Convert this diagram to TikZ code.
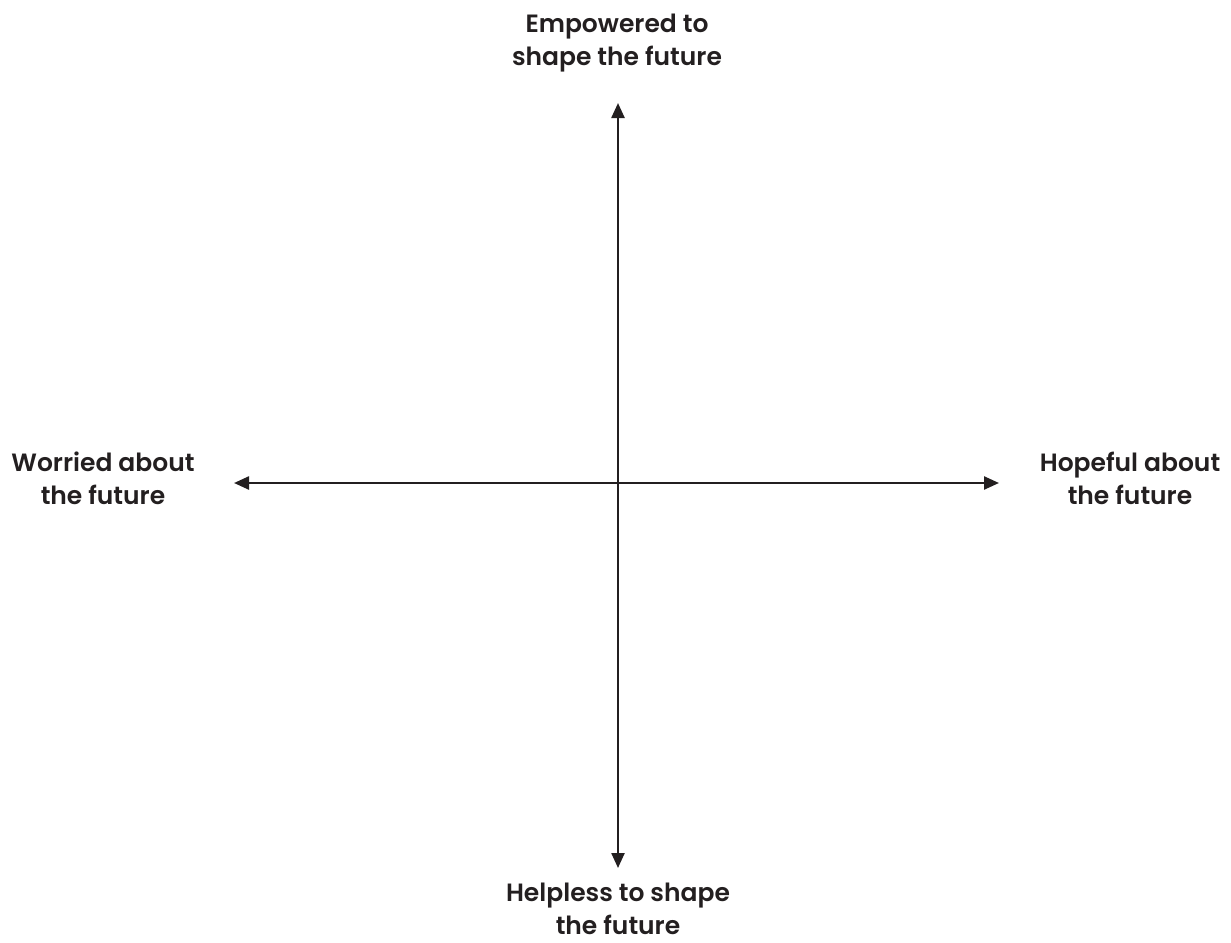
\documentclass[tikz,border=0pt]{standalone}
\usepackage{fontspec}
\newfontfamily\lblfont{Poppins}[UprightFont=* SemiBold]
\usetikzlibrary{arrows.meta}
\definecolor{ink}{HTML}{231F20}
\tikzset{
  axis/.style = {ink, line width = 2.4pt, {Triangle[length=15pt, width=13pt]}-{Triangle[length=15pt, width=13pt]}},
  lbl/.style = {ink, align = center, inner sep = 0pt, font = \lblfont\fontsize{25}{33}\selectfont}
}
\begin{document}
\begin{tikzpicture}[x = 1pt, y = -1pt]
\useasboundingbox (0,0) rectangle (1231,942);
\coordinate (top) at (618,103);
\coordinate (bot) at (618,868);
\coordinate (lft) at (234,483);
\coordinate (rgt) at (999,483);
\node[lbl] at (617,43) (empowered) {Empowered to\\shape the future};
\node[lbl] at (103,478) (worried) {Worried about\\the future};
\node[lbl] at (1130,478) (hopeful) {Hopeful about\\the future};
\node[lbl] at (618,909) (helpless) {Helpless to shape\\the future};
\draw[axis] (top) -- (bot);
\draw[axis] (lft) -- (rgt);
\end{tikzpicture}
\end{document}
